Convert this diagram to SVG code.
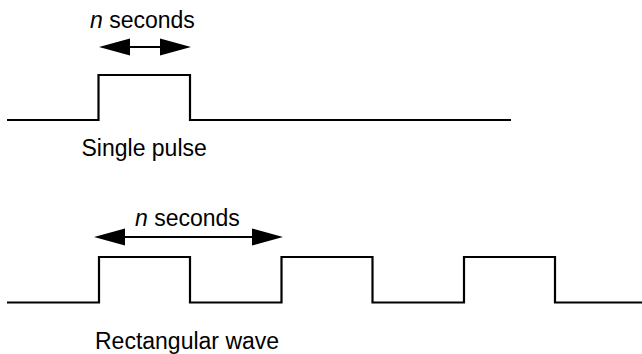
<svg xmlns="http://www.w3.org/2000/svg" width="642" height="354" viewBox="0 0 642 354">
<style>
.sig{fill:none;stroke:#000;stroke-width:2.2;stroke-linejoin:miter;stroke-linecap:butt}
.arr{stroke:#000;stroke-width:2}
.head{fill:#000}
text{font-family:"Liberation Sans",Arial,sans-serif;font-size:23px;fill:#000}
</style>
<rect width="642" height="354" fill="#fff"/>
<g id="single-pulse">
<path class="sig" d="M7,120 H98.5 V75 H190 V120 H511"/>
<text x="81.5" y="156">Single pulse</text>
</g>
<g id="rectangular-wave">
<path class="sig" d="M7,302.5 H99 V257 H190 V302.5 H281.5 V257 H372.5 V302.5 H464 V257 H555 V302.5 H642"/>
<text x="95" y="349">Rectangular wave</text>
</g>
<g id="connectors">
<g id="arrow-1">
<line class="arr" x1="125" y1="47" x2="165" y2="47"/>
<polygon class="head" points="99,47 130,38.5 130,55.5"/>
<polygon class="head" points="191,47 160,38.5 160,55.5"/>
<text x="90" y="28"><tspan font-style="italic">n</tspan> seconds</text>
</g>
<g id="arrow-2">
<line class="arr" x1="120" y1="237" x2="258" y2="237"/>
<polygon class="head" points="94,237 125,228.5 125,245.5"/>
<polygon class="head" points="283,237 252,228.5 252,245.5"/>
<text x="135" y="226"><tspan font-style="italic">n</tspan> seconds</text>
</g>
</g>
</svg>
